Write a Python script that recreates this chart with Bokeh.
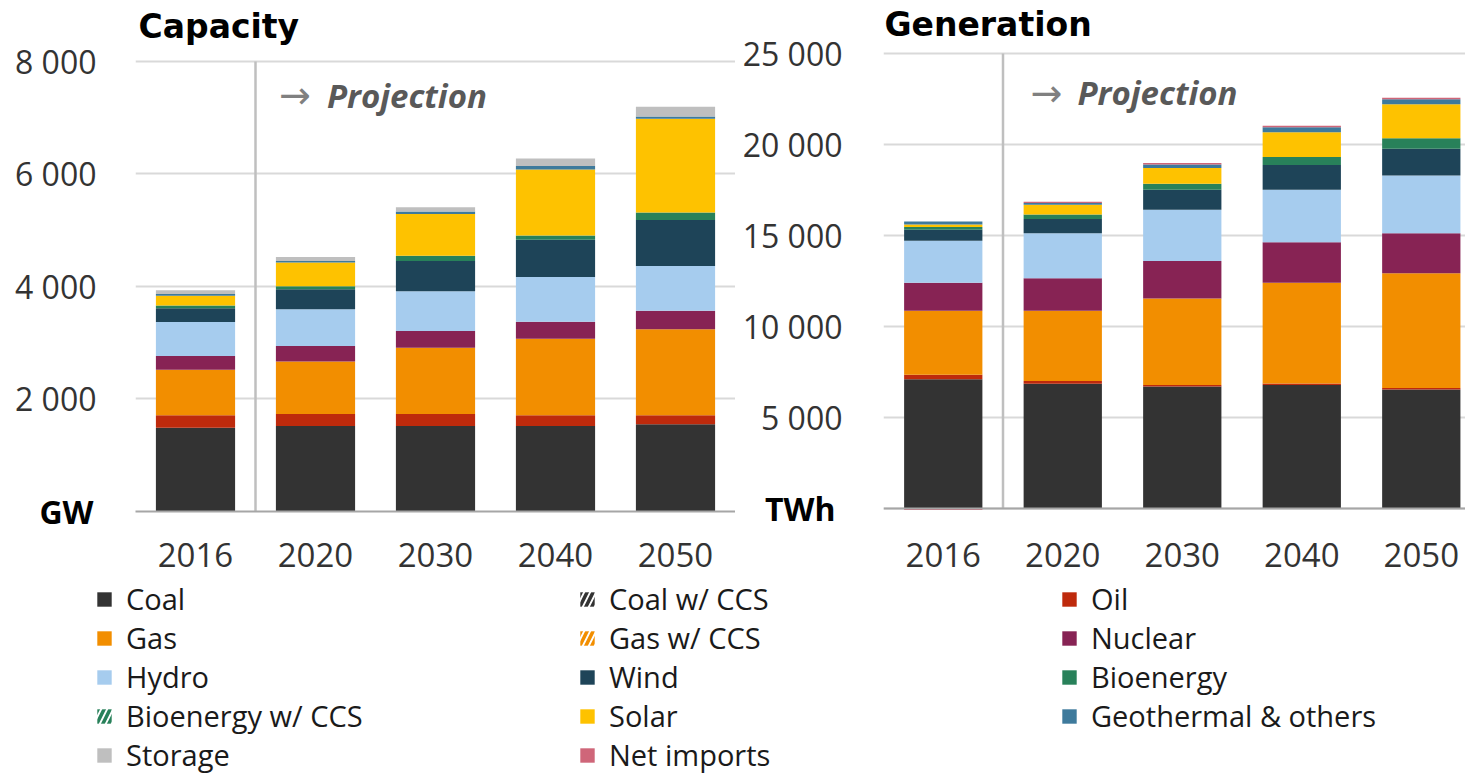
from bokeh.plotting import figure
from bokeh.models import (Range1d, FixedTicker, Label, Legend, LegendItem, ColumnDataSource,
                          LinearAxis, Span)
from bokeh.layouts import row, column
from bokeh.embed import file_html
from bokeh.resources import INLINE

FONT = "Open Sans"
TITLE_FONT = "DejaVu Sans"

# ---------------- data ----------------
years = ["2016", "2020", "2030", "2040", "2050"]

series_names = ["Coal", "Coal w/ CCS", "Oil", "Gas", "Gas w/ CCS", "Nuclear", "Hydro",
                "Wind", "Bioenergy", "Bioenergy w/ CCS", "Solar", "Geothermal & others",
                "Storage", "Net imports"]

# Capacity (GW)
cap_coal = [1490, 1520, 1520, 1520, 1550]
cap_coal_ccs = [0, 0, 0, 0, 0]
cap_oil = [220, 215, 215, 190, 160]
cap_gas = [810, 930, 1175, 1360, 1530]
cap_gas_ccs = [0, 0, 0, 0, 0]
cap_nuclear = [245, 275, 300, 305, 330]
cap_hydro = [605, 655, 705, 795, 795]
cap_wind = [245, 355, 540, 660, 815]
cap_bio = [45, 55, 90, 75, 135]
cap_bio_ccs = [0, 0, 0, 0, 0]
cap_solar = [175, 420, 745, 1175, 1665]
cap_geo = [30, 30, 45, 60, 40]
cap_storage = [70, 70, 75, 135, 175]

# Generation (TWh)
gen_coal = [7100, 6860, 6710, 6780, 6540]
gen_coal_ccs = [0, 0, 0, 0, 0]
gen_oil = [255, 145, 75, 90, 75]
gen_gas = [3510, 3860, 4760, 5530, 6310]
gen_gas_ccs = [0, 0, 0, 0, 0]
gen_nuclear = [1545, 1785, 2060, 2225, 2205]
gen_hydro = [2300, 2480, 2810, 2885, 3160]
gen_wind = [605, 770, 1105, 1360, 1470]
gen_bio = [150, 255, 330, 440, 590]
gen_bio_ccs = [0, 0, 0, 0, 0]
gen_solar = [145, 535, 865, 1360, 1855]
gen_geo = [165, 90, 185, 275, 275]
gen_imports = [-80, 75, 90, 90, 90]

cap_ticks = [0, 2000, 4000, 6000, 8000]
gen_ticks = [0, 5000, 10000, 15000, 20000, 25000]

colors = {
    "Coal": "#333333", "Coal w/ CCS": "#333333", "Oil": "#BE2A0C", "Gas": "#F28E00",
    "Gas w/ CCS": "#F28E00", "Nuclear": "#872354", "Hydro": "#A6CCEE", "Wind": "#1E4458",
    "Bioenergy": "#28815A", "Bioenergy w/ CCS": "#28815A", "Solar": "#FEC200",
    "Geothermal & others": "#3E7A9C", "Storage": "#BFBFBF", "Net imports": "#CF6679",
}
hatched = {"Coal w/ CCS", "Gas w/ CCS", "Bioenergy w/ CCS"}

cap_series = [("Coal", cap_coal), ("Coal w/ CCS", cap_coal_ccs), ("Oil", cap_oil), ("Gas", cap_gas),
              ("Gas w/ CCS", cap_gas_ccs), ("Nuclear", cap_nuclear), ("Hydro", cap_hydro),
              ("Wind", cap_wind), ("Bioenergy", cap_bio), ("Bioenergy w/ CCS", cap_bio_ccs),
              ("Solar", cap_solar), ("Geothermal & others", cap_geo), ("Storage", cap_storage)]
gen_series = [("Coal", gen_coal), ("Coal w/ CCS", gen_coal_ccs), ("Oil", gen_oil), ("Gas", gen_gas),
              ("Gas w/ CCS", gen_gas_ccs), ("Nuclear", gen_nuclear), ("Hydro", gen_hydro),
              ("Wind", gen_wind), ("Bioenergy", gen_bio), ("Bioenergy w/ CCS", gen_bio_ccs),
              ("Solar", gen_solar), ("Geothermal & others", gen_geo), ("Net imports", gen_imports)]

xs = list(range(len(years)))
proj_x = (xs[0] + xs[1]) / 2  # boundary between history and projection


def fmt(v):
    return f"{v:,}".replace(",", " ")


def style_kw(name, scale=8, weight=3):
    if name in hatched:
        return dict(fill_color="white", line_color=None, hatch_pattern="/",
                    hatch_color=colors[name], hatch_weight=weight, hatch_scale=scale)
    return dict(fill_color=colors[name], line_color=None)


def draw_stack(p, series, width):
    pos = [0] * len(years)
    neg = [0] * len(years)
    for name, vals in series:
        bottoms, tops = [], []
        for i, v in enumerate(vals):
            if v >= 0:
                b = pos[i]; t = b + v; pos[i] = t
            else:
                b = neg[i]; t = b + v; neg[i] = t
            bottoms.append(b); tops.append(t)
        src = ColumnDataSource(dict(x=xs, bottom=bottoms, top=tops))
        p.vbar(x="x", bottom="bottom", top="top", width=width, source=src, **style_kw(name))


def make_fig(width, height, y_start, y_end, ticks, x_end, mbl, mbb, unit, unit_standoff,
             num_standoff):
    p = figure(width=width, height=height, x_range=Range1d(-0.5, x_end),
               y_range=Range1d(y_start, y_end), output_backend="svg", toolbar_location=None,
               min_border_left=mbl, min_border_top=0, min_border_bottom=mbb, min_border_right=0)
    p.outline_line_color = None
    p.border_fill_color = None
    p.xgrid.visible = False
    p.ygrid.ticker = FixedTicker(ticks=ticks)
    p.ygrid.grid_line_color = "#D9D9D9"
    p.ygrid.grid_line_width = 2
    # x axis
    p.xaxis.ticker = FixedTicker(ticks=xs)
    p.xaxis.major_label_overrides = {i: y for i, y in enumerate(years)}
    p.xaxis.major_tick_line_color = None
    p.xaxis.major_tick_out = 0
    p.xaxis.major_tick_in = 0
    p.xaxis.minor_tick_line_color = None
    p.xaxis.axis_line_color = "#A6A6A6"
    p.xaxis.axis_line_width = 2
    p.xaxis.major_label_text_font = FONT
    p.xaxis.major_label_text_font_size = "33px"
    p.xaxis.major_label_text_color = "#333333"
    p.xaxis.major_label_standoff = 31
    # inner left axis: unit label at zero (bold)
    ya = p.yaxis[0]
    ya.ticker = FixedTicker(ticks=[ticks[0]])
    ya.major_label_overrides = {ticks[0]: unit}
    ya.major_tick_line_color = None
    ya.major_tick_out = 0
    ya.major_tick_in = 0
    ya.minor_tick_line_color = None
    ya.axis_line_color = None
    ya.major_label_text_font = FONT
    ya.major_label_text_font_size = "32px"
    ya.major_label_text_font_style = "bold"
    ya.major_label_text_color = "#000000"
    ya.major_label_standoff = unit_standoff
    # outer left axis: numeric tick labels
    yn = LinearAxis(ticker=FixedTicker(ticks=ticks),
                    major_label_overrides={t: (fmt(t) if t != 0 else "") for t in ticks},
                    major_tick_line_color=None, major_tick_out=0, major_tick_in=0,
                    minor_tick_line_color=None, axis_line_color=None,
                    major_label_text_font=FONT, major_label_text_font_size="32px",
                    major_label_text_color="#333333", major_label_standoff=num_standoff)
    p.add_layout(yn, "left")
    return p


# ---------------- Capacity ----------------
p1 = make_fig(735, 591, 0, 9084, cap_ticks, 4.5, 135, 80, "GW", 42, -60)
draw_stack(p1, cap_series, 0.66)
p1.segment(x0=[proj_x], y0=[cap_ticks[0]], x1=[proj_x], y1=[cap_ticks[-1]],
           line_color="#BFBFBF", line_width=2.5)
p1.add_layout(Label(x=-0.4746, y=8620, text="Capacity", text_font=TITLE_FONT,
                    text_font_size="33px", text_font_style="bold", text_color="#000000",
                    text_baseline="alphabetic"))
p1.add_layout(Label(x=0.695, y=7396, text="\u2192", text_font="DejaVu Sans",
                    text_font_size="38px", text_color="#808080", text_baseline="middle"))
p1.add_layout(Label(x=0.695, y=7396, x_offset=48, text="Projection", text_font=FONT,
                    text_font_size="33px", text_font_style="bold italic", text_color="#595959",
                    text_baseline="middle"))

# ---------------- Generation ----------------
p2 = make_fig(730, 591, -165, 27912, gen_ticks, 4.37, 148, 80, "TWh", 48, -81)
p2.xaxis.axis_line_color = None
draw_stack(p2, gen_series, 0.655)
p2.add_layout(Span(location=0, dimension="width", line_color="#A6A6A6", line_width=2))
p2.segment(x0=[proj_x], y0=[gen_ticks[0]], x1=[proj_x], y1=[gen_ticks[-1]],
           line_color="#BFBFBF", line_width=2.5)
p2.add_layout(Label(x=-0.4916, y=26590, text="Generation", text_font=TITLE_FONT,
                    text_font_size="33px", text_font_style="bold", text_color="#000000",
                    text_baseline="alphabetic"))
p2.add_layout(Label(x=0.73, y=22857, text="\u2192", text_font="DejaVu Sans",
                    text_font_size="38px", text_color="#808080", text_baseline="middle"))
p2.add_layout(Label(x=0.73, y=22857, x_offset=47, text="Projection", text_font=FONT,
                    text_font_size="33px", text_font_style="bold italic", text_color="#595959",
                    text_baseline="middle"))

# ---------------- Legend (three columns) ----------------
legend_cols = [
    ["Coal", "Gas", "Hydro", "Bioenergy w/ CCS", "Storage"],
    ["Coal w/ CCS", "Gas w/ CCS", "Wind", "Solar", "Net imports"],
    ["Oil", "Nuclear", "Bioenergy", "Geothermal & others"],
]
leg_widths = [483, 482, 500]
leg_figs = []
for names, w in zip(legend_cols, leg_widths):
    lf = figure(width=w, height=211, x_range=Range1d(0, 1), y_range=Range1d(0, 1),
                output_backend="svg", toolbar_location=None, x_axis_location=None,
                y_axis_location=None, min_border_left=95, min_border_top=8,
                min_border_bottom=0, min_border_right=0)
    lf.outline_line_color = None
    lf.border_fill_color = None
    lf.background_fill_color = None
    lf.grid.visible = False
    items = []
    for name in names:
        # zero-height proxy bar: only used to draw the legend swatch
        r = lf.vbar(x=[5], bottom=[0], top=[0], width=0.5,
                    **style_kw(name, scale=12, weight=3.5))
        items.append(LegendItem(label=name, renderers=[r]))
    lg = Legend(items=items, location="top_left", orientation="vertical", glyph_width=18,
                glyph_height=18, label_standoff=13, spacing=0, padding=0, margin=0,
                border_line_color=None, background_fill_alpha=0, label_text_font=FONT,
                label_text_font_size="29px", label_text_color="#1A1A1A", label_height=18)
    lf.add_layout(lg, "center")
    leg_figs.append(lf)

layout = column(row(p1, p2), row(*leg_figs, margin=(-20, 0, 0, 0)))
open("out.html", "w").write(file_html(layout, INLINE))
